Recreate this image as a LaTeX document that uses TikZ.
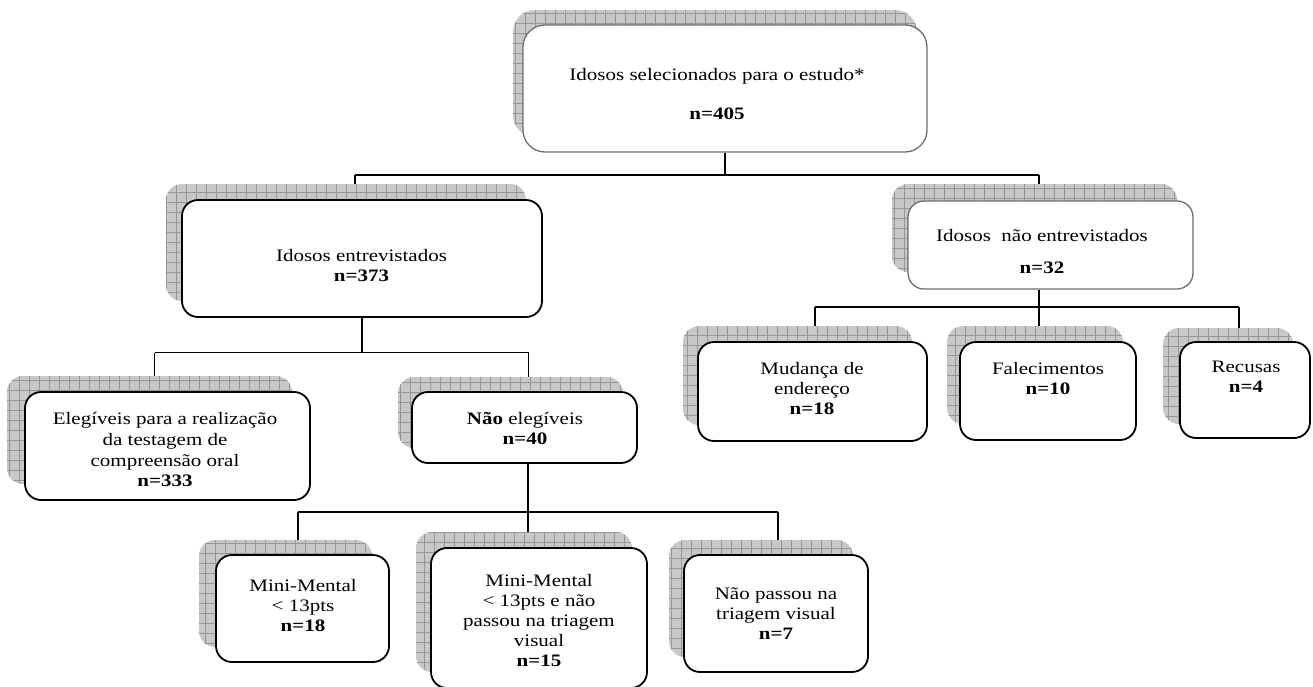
\documentclass[tikz,border=0pt]{standalone}
\usepackage{fontspec}
\setmainfont{Liberation Serif}[FakeStretch=1.2]
\definecolor{shadefill}{RGB}{200,200,200}
\definecolor{shadegrid}{RGB}{150,150,150}
\definecolor{softborder}{RGB}{110,110,110}
\begin{document}
\begin{tikzpicture}[x=1pt,y=-1pt,
  shadowbox/.style={draw=none, fill=shadefill, rounded corners=16pt, inner sep=0pt,
    path picture={\draw[shadegrid, line width=0.6pt, step=10pt]
      (path picture bounding box.south west) grid (path picture bounding box.north east);}},
  mainbox/.style={draw=black, line width=1.8pt, fill=white, rounded corners=16pt, inner sep=0pt},
  softbox/.style={mainbox, draw=softborder, line width=1.3pt},
  txt/.style={align=center, inner sep=0pt, font=\fontsize{17.5}{20}\selectfont},
  conn/.style={draw=black, line width=1.5pt}
]
\useasboundingbox (0,0) rectangle (1313,686);

% ---------- shadows ----------
\node[shadowbox, rounded corners=22pt, minimum width=404pt, minimum height=127pt] (Ts) at (715,73.5) {};
\node[shadowbox, minimum width=360pt, minimum height=117pt] (E1s) at (346,242.5) {};
\node[shadowbox, minimum width=285pt, minimum height=88pt] (NEs) at (1034.5,228) {};
\node[shadowbox, minimum width=285pt, minimum height=108pt] (ELs) at (149.5,430) {};
\node[shadowbox, minimum width=225pt, minimum height=71pt] (NOs) at (510.5,412.5) {};
\node[shadowbox, minimum width=229pt, minimum height=99pt] (MUs) at (797.5,375.5) {};
\node[shadowbox, minimum width=176pt, minimum height=98pt] (FAs) at (1035,375) {};
\node[shadowbox, minimum width=130pt, minimum height=96pt] (REs) at (1228,376) {};
\node[shadowbox, minimum width=173pt, minimum height=107pt] (MMs) at (285.5,593.5) {};
\node[shadowbox, minimum width=216pt, minimum height=140pt] (MIs) at (524,602) {};
\node[shadowbox, minimum width=184pt, minimum height=117pt] (RIs) at (761,598.5) {};

% ---------- boxes ----------
\node[softbox, rounded corners=22pt, minimum width=404pt, minimum height=127pt] (T) at (725,88.5) {};
\node[mainbox, minimum width=360pt, minimum height=117pt] (E1) at (362,258.5) {};
\node[softbox, minimum width=285pt, minimum height=88pt] (NE) at (1050.5,245) {};
\node[mainbox, minimum width=285pt, minimum height=108pt] (EL) at (167.5,446) {};
\node[mainbox, minimum width=225pt, minimum height=71pt] (NO) at (524.5,427.5) {};
\node[mainbox, minimum width=229pt, minimum height=99pt] (MU) at (812.5,391.5) {};
\node[mainbox, minimum width=176pt, minimum height=98pt] (FA) at (1048,391) {};
\node[mainbox, minimum width=130pt, minimum height=96pt] (RE) at (1245,390) {};
\node[mainbox, minimum width=173pt, minimum height=107pt] (MM) at (302.5,608.5) {};
\node[mainbox, minimum width=216pt, minimum height=140pt] (MI) at (539,618) {};
\node[mainbox, minimum width=184pt, minimum height=117pt] (RI) at (776,613.5) {};

% ---------- texts ----------
\node[txt] (Tt) at (717,94.25) {Idosos selecionados para o estudo*\\[19pt]\textbf{n=405}};
\node[txt] (E1t) at (361.5,265.75) {Idosos entrevistados\\\textbf{n=373}};
\node[txt] (NEt) at (1042,251.75) {Idosos\ \ não entrevistados\\[12pt]\textbf{n=32}};
\node[txt, font=\fontsize{17.5}{20.8}\selectfont] (ELt) at (165,449.6) {Elegíveis para a realização\\da testagem de\\compreensão oral\\\textbf{n=333}};
\node[txt] (NOt) at (525,428.75) {\textbf{Não} elegíveis\\\textbf{n=40}};
\node[txt] (MUt) at (812,388.75) {Mudança de\\endereço\\\textbf{n=18}};
\node[txt] (FAt) at (1048,378.25) {Falecimentos\\\textbf{n=10}};
\node[txt] (REt) at (1246,376.75) {Recusas\\\textbf{n=4}};
\node[txt] (MMt) at (303,605.75) {Mini-Mental\\< 13pts\\\textbf{n=18}};
\node[txt] (MIt) at (539,620.75) {Mini-Mental\\< 13pts e não\\passou na triagem\\visual\\\textbf{n=15}};
\node[txt] (RIt) at (776,613.25) {Não passou na\\triagem visual\\\textbf{n=7}};

% ---------- connectors ----------
\coordinate (h1L) at (355,175);
\coordinate (h1R) at (1039,175);
\draw[conn] (T.south) -- (T.south |- h1L);
\draw[conn] (h1L) -- (h1R);
\draw[conn] (h1L) -- (h1L |- E1s.north);
\draw[conn] (h1R) -- (h1R |- NEs.north);

\coordinate (h2L) at (154.6,352.5);
\coordinate (h2R) at (528.6,352.5);
\draw[conn] (E1.south) -- (E1.south |- h2L);
\draw[conn] (h2L) -- (h2R);
\draw[conn] (h2L) -- (h2L |- ELs.north);
\draw[conn] (h2R) -- (h2R |- NOs.north);

\coordinate (h3L) at (298,512);
\coordinate (h3M) at (528,512);
\coordinate (h3R) at (778,512);
\draw[conn] (h3M |- NO.south) -- (h3M |- MIs.north);
\draw[conn] (h3L) -- (h3R);
\draw[conn] (h3L) -- (h3L |- MMs.north);
\draw[conn] (h3R) -- (h3R |- RIs.north);

\coordinate (h4L) at (815,307);
\coordinate (h4M) at (1039,307);
\coordinate (h4R) at (1239,307);
\draw[conn] (h4M |- NE.south) -- (h4M |- FAs.north);
\draw[conn] (h4L) -- (h4R);
\draw[conn] (h4L) -- (h4L |- MUs.north);
\draw[conn] (h4R) -- (h4R |- REs.north);
\end{tikzpicture}
\end{document}
